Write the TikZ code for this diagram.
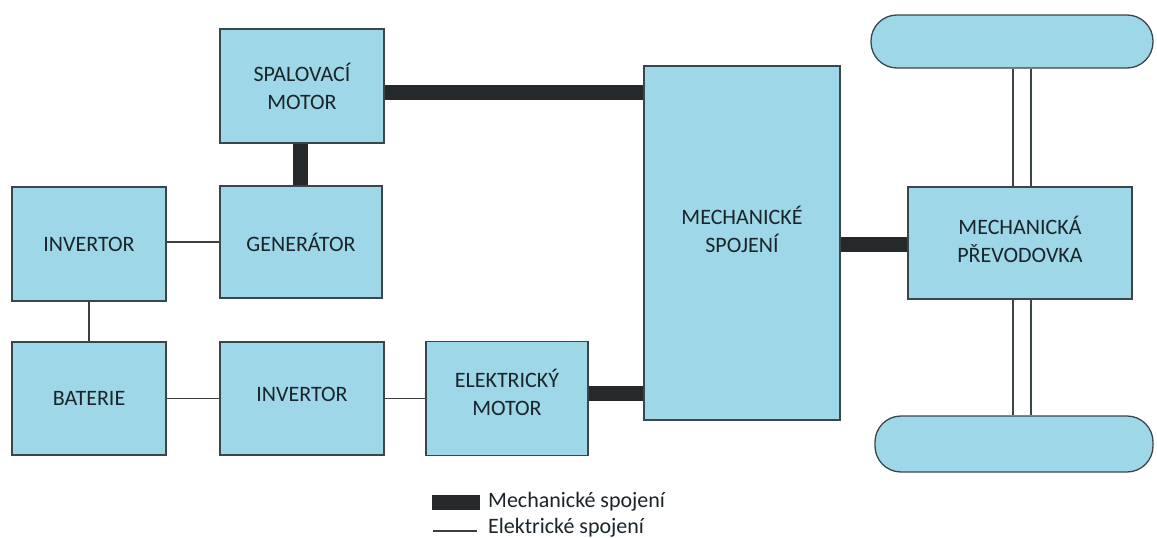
\documentclass[tikz,border=0pt]{standalone}
\usepackage{fontspec}
\setmainfont{Carlito}
\definecolor{boxfill}{HTML}{9ED8E8}
\definecolor{boxline}{HTML}{3A464C}
\definecolor{mechc}{HTML}{26292C}
\definecolor{txtc}{HTML}{1A242A}
\begin{document}
\begin{tikzpicture}[x=1pt,y=-1pt,
  blk/.style={draw=boxline,fill=boxfill,line width=1.3pt,rectangle,inner sep=0pt,
    minimum width=#1,align=center,text=txtc,font=\fontsize{22}{28}\selectfont},
  txt/.style={text=txtc,font=\fontsize{22}{28}\selectfont,align=center,inner sep=0pt},
  wheel/.style={draw=boxline,fill=boxfill,line width=1.3pt,rectangle,rounded corners=26pt,inner sep=0pt},
  mech/.style={draw=mechc,line width=15pt},
  elec/.style={draw=mechc!90,line width=1.1pt},
  shaft/.style={draw=boxline,line width=1.1pt},
  lbl/.style={anchor=west,text=txtc,font=\fontsize{22}{26}\selectfont,inner sep=0pt}]
\useasboundingbox[fill=white] (0,0) rectangle (1157,538);

\node[blk=164,minimum height=114] (sm) at (302,86) {SPALOVACÍ\\MOTOR};
\node[blk=162,minimum height=112] (gen) at (301,242) {GENERÁTOR};
\node[blk=154,minimum height=114] (inv1) at (89,244) {INVERTOR};
\node[blk=154,minimum height=113] (bat) at (89,398.5) {BATERIE};
\node[blk=164,minimum height=113] (inv2) at (302,398.5) {};
\node[txt] (inv2t) at (302,394) {INVERTOR};
\node[blk=162,minimum height=114] (em) at (507,398.5) {};
\node[txt] (emt) at (507,392) {ELEKTRICKÝ\\MOTOR};
\node[blk=196,minimum height=354] (ms) at (742,243) {};
\node[txt] (mst) at (742,229) {MECHANICKÉ\\SPOJENÍ};
\node[blk=224,minimum height=112] (pr) at (1020,243) {};
\node[txt] (prt) at (1020,239) {MECHANICKÁ\\PŘEVODOVKA};
\node[wheel,minimum width=282,minimum height=53] (wt) at (1012,41.5) {};
\node[wheel,minimum width=278,minimum height=56] (wb) at (1014,444) {};

% mechanical links
\draw[mech] (sm.east |- 0,92) -- (ms.west |- 0,92);
\draw[mech] (sm.south -| 300,0) -- (gen.north -| 300,0);
\draw[mech] (em.east |- 0,393) -- (ms.west |- 0,393);
\draw[mech] (ms.east |- 0,244) -- (pr.west |- 0,244);

% electrical links
\draw[elec] (inv1.east |- 0,242) -- (gen.west |- 0,242);
\draw[elec] (inv1.south) -- (bat.north);
\draw[elec] (bat.east) -- (inv2.west);
\draw[elec] (inv2.east) -- (em.west);

% shafts
\draw[shaft] (wt.south -| 1013,0) -- (pr.north -| 1013,0);
\draw[shaft] (wt.south -| 1031,0) -- (pr.north -| 1031,0);
\draw[shaft] (pr.south -| 1013,0) -- (wb.north -| 1013,0);
\draw[shaft] (pr.south -| 1031,0) -- (wb.north -| 1031,0);

% legend
\node[fill=mechc,minimum width=48,minimum height=15,inner sep=0pt] (lm) at (456,502) {};
\node[lbl] (lmt) at (488,502) {Mechanické spojení};
\coordinate (lea) at (433,531);
\coordinate (leb) at (477,531);
\draw[elec] (lea) -- (leb);
\node[lbl] (let) at (488,528) {Elektrické spojení};
\end{tikzpicture}
\end{document}
